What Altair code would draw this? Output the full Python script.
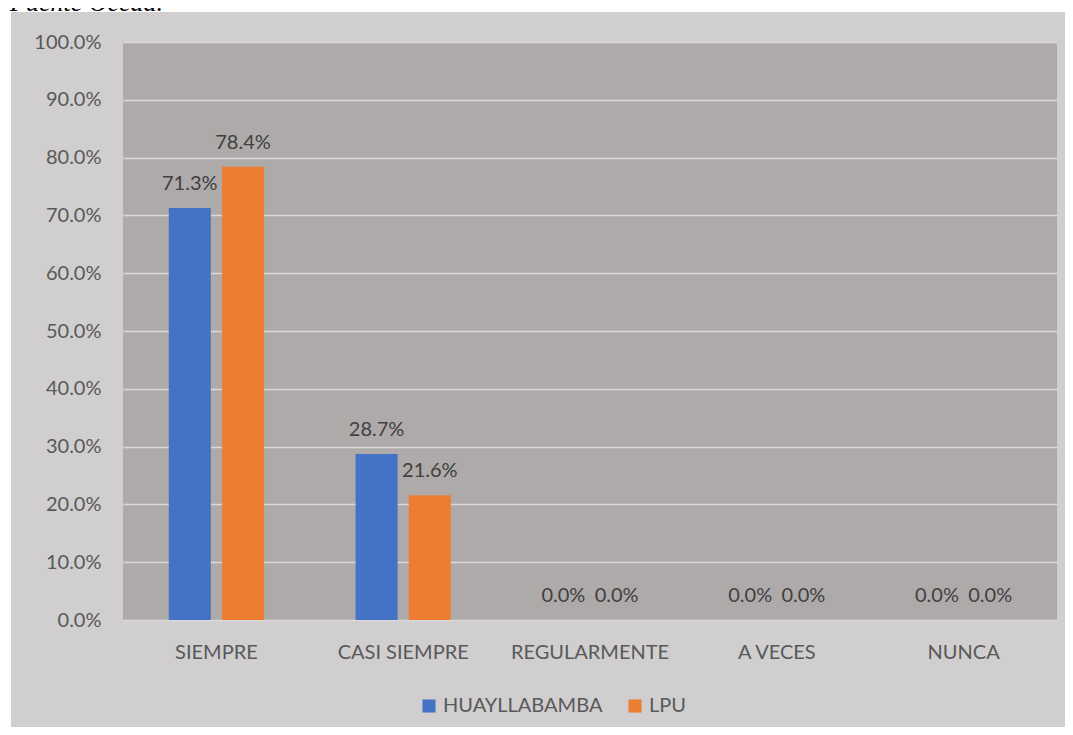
import altair as alt
import pandas as pd

categories = ["SIEMPRE", "CASI SIEMPRE", "REGULARMENTE", "A VECES", "NUNCA"]
series = ["HUAYLLABAMBA", "LPU"]
huayllabamba = [0.713, 0.287, 0.0, 0.0, 0.0]
lpu = [0.784, 0.216, 0.0, 0.0, 0.0]
y_ticks = [0.0, 0.1, 0.2, 0.3, 0.4, 0.5, 0.6, 0.7, 0.8, 0.9, 1.0]
colors = ["#4472C4", "#ED7D31"]
note = "Fuente Oceda."

rows = []
for c, h, l in zip(categories, huayllabamba, lpu):
    rows.append({"category": c, "series": series[0], "value": h})
    rows.append({"category": c, "series": series[1], "value": l})
df = pd.DataFrame(rows)

FONT = "Lato"
LABEL_GRAY = "#595959"

x = alt.X(
    "category:N",
    sort=categories,
    scale=alt.Scale(paddingInner=0.49, paddingOuter=0.245),
    axis=alt.Axis(title=None, labelAngle=0, labelFontSize=20, labelColor=LABEL_GRAY,
                  labelFont=FONT, labelPadding=22, ticks=False, domain=False, grid=False),
)
y = alt.Y(
    "value:Q",
    scale=alt.Scale(domain=[0, 1]),
    axis=alt.Axis(title=None, values=y_ticks, format=".1%", labelFontSize=20,
                  labelColor=LABEL_GRAY, labelFont=FONT, labelPadding=22,
                  ticks=False, domain=False, gridColor="#D9D9D9", gridWidth=1.5),
)
xoff = alt.XOffset("series:N", sort=series,
                   scale=alt.Scale(paddingInner=0.21, paddingOuter=0))
color = alt.Color(
    "series:N",
    sort=series,
    scale=alt.Scale(domain=series, range=colors),
    legend=alt.Legend(title=None, orient="none", legendX=296, legendY=654,
                      direction="horizontal", symbolType="square", symbolSize=170,
                      symbolStrokeWidth=0, labelFontSize=20, labelColor=LABEL_GRAY,
                      labelFont=FONT, columnPadding=22, symbolOffset=0),
)

one = pd.DataFrame({"t": [note]})

# white page strips around the grey chart box (outside the plot area)
top_strip = alt.Chart(one).mark_rect(color="white", clip=False).encode(
    x=alt.value(-115), x2=alt.value(942), y=alt.value(-34), y2=alt.value(-30))
left_strip = alt.Chart(one).mark_rect(color="white", clip=False).encode(
    x=alt.value(-115), x2=alt.value(-112), y=alt.value(-34), y2=alt.value(685))

bars = alt.Chart(df).mark_bar().encode(x=x, y=y, xOffset=xoff, color=color)
labels = alt.Chart(df).mark_text(
    baseline="alphabetic", dy=-18, fontSize=20, color="#404040", font=FONT
).encode(x=x, y=y, xOffset=xoff, text=alt.Text("value:Q", format=".1%"))

note_text = alt.Chart(one).mark_text(
    align="left", baseline="alphabetic", fontSize=26, fontStyle="italic",
    font="Liberation Serif", color="#000000", clip=False
).encode(x=alt.value(-113), y=alt.value(-31), text="t:N")

chart = alt.layer(top_strip, left_strip, bars, labels, note_text).properties(
    width=934, height=578,
    background="#D0CECE",
    padding={"left": 115, "top": 34, "right": 8, "bottom": 107},
    autosize=alt.AutoSizeParams(type="none"),
).configure_view(fill="#AEAAAA", stroke=None)

chart.save("out.html", embed_options={"renderer": "svg", "actions": False})
